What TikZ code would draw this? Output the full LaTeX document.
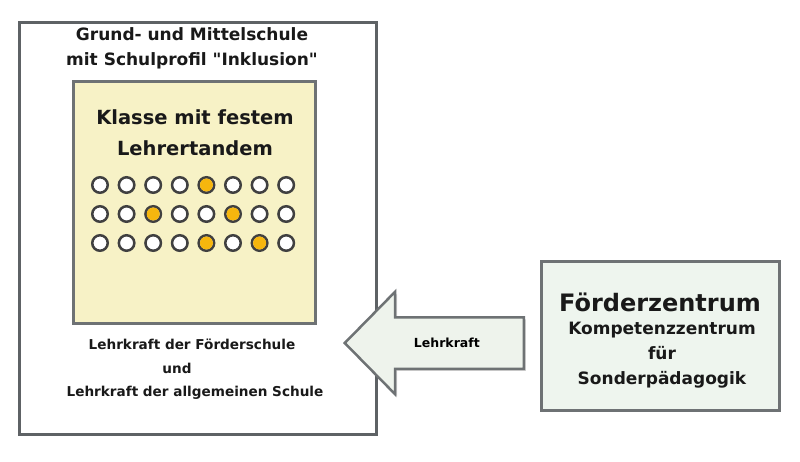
\documentclass[tikz,border=0pt]{standalone}
\usepackage{fontspec}
\setmainfont{DejaVu Sans}
\usetikzlibrary{positioning,shapes.arrows,shadows}

\definecolor{rahmengrau}{HTML}{5E6265}
\definecolor{klassegelb}{HTML}{F7F2C6}
\definecolor{zentrumgruen}{HTML}{EEF5EE}
\definecolor{pfeilgruen}{HTML}{EEF3EC}
\definecolor{punktgelb}{HTML}{F6B60E}
\newcommand{\fs}[1]{\bfseries\fontsize{#1}{#1}\selectfont}

\begin{document}
\begin{tikzpicture}[x=1pt, y=-1pt, >=stealth,
	rahmen/.style={draw=rahmengrau, line width=3pt, inner sep=0pt},
	platz/.style={circle, draw=black!75, line width=2.5pt, fill=white, minimum size=15.5, inner sep=0pt,
		drop shadow={shadow xshift=-1pt, shadow yshift=-1pt, opacity=0.4}},
	schrift/.style={align=center, text=black!90, inner sep=0pt}]
	\useasboundingbox (0,0) rectangle (800,462);
	% Schule
	\node[rahmen, fill=white, minimum width=357, minimum height=412, anchor=north west] (schule) at (18,21) {};
	\node[schrift, font=\fs{17}, align=center] (titel) at (192,48.5) {Grund- und Mittelschule\\[8pt]mit Schulprofil \textquotedbl Inklusion\textquotedbl};
	% Klasse
	\node[rahmen, draw=rahmengrau!90, fill=klassegelb, minimum width=242, minimum height=242, anchor=north west,
		drop shadow={shadow xshift=-1pt, shadow yshift=-1pt, opacity=0.2}] (klasse) at (72,80) {};
	\node[schrift, font=\fs{19.5}] (tandem) at (195,132.5) {Klasse mit festem\\[11pt]Lehrertandem};
	\foreach \r/\y in {1/185, 2/214, 3/243} {
		\foreach \c in {1, ..., 8} {
			\node[platz] (p-\r-\c) at (100 + 26.6*\c - 26.6, \y) {};
		}
	}
	\foreach \r/\c in {1/5, 2/3, 2/6, 3/5, 3/7} {
		\fill[punktgelb] (p-\r-\c) circle (6.5);
	}
	\node[schrift, font=\fs{13.6}] (lk-foerder) at (192,344) {Lehrkraft der Förderschule};
	\node[schrift, font=\fs{13.6}] (und) at (177,368) {und};
	\node[schrift, font=\fs{13.6}] (lk-allg) at (195,393) {Lehrkraft der allgemeinen Schule};
	% Foerderzentrum
	\node[rahmen, draw=rahmengrau!90, fill=zentrumgruen, minimum width=238, minimum height=149, anchor=north west,
		drop shadow={shadow xshift=1.5pt, shadow yshift=-1.5pt, opacity=0.3}] (zentrum) at (540,260) {};
	\node[schrift, font=\fs{24}] (fz) at (660,302) {Förderzentrum};
	\node[schrift, font=\fs{17}] (kz) at (662,355) {Kompetenzzentrum\\[8pt]für\\[8pt]Sonderpädagogik};
	% Pfeil
	\node[single arrow, shape border rotate=180, draw=rahmengrau!90, line width=2.5pt, fill=pfeilgruen,
		font=\fs{12.5}, text height=9.5pt, text depth=0pt, inner ysep=19.75pt, inner xsep=0pt,
		minimum height=179, single arrow head extend=25.5pt, single arrow tip angle=91,
		drop shadow={shadow xshift=2pt, shadow yshift=-2pt, opacity=0.35},
		anchor=tip] (lehrkraft) at (343,343) {Lehrkraft};
\end{tikzpicture}
\end{document}
